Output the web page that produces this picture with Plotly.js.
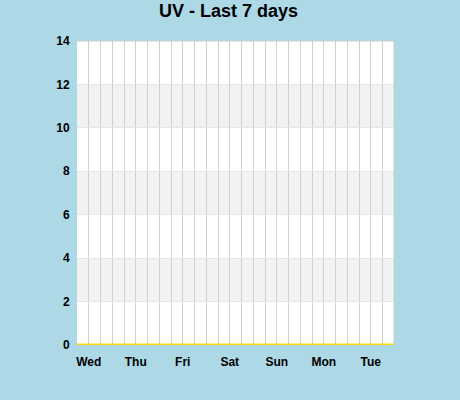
<!DOCTYPE html>
<html>
<head>
<meta charset="utf-8">
<script src="https://cdn.plot.ly/plotly-3.0.1.min.js"></script>
<style>
  html, body { margin: 0; padding: 0; background: #add8e6; }
  #chart { width: 460px; height: 400px; }
</style>
</head>
<body>
<div id="chart"></div>
<script>
// UV readings over the last 7 days (all zero in the reference)
const times = [
  '2024-01-02 18:00', '2024-01-03 06:00', '2024-01-03 18:00',
  '2024-01-04 06:00', '2024-01-04 18:00', '2024-01-05 06:00',
  '2024-01-05 18:00', '2024-01-06 06:00', '2024-01-06 18:00',
  '2024-01-07 06:00', '2024-01-07 18:00', '2024-01-08 06:00',
  '2024-01-08 18:00', '2024-01-09 06:00', '2024-01-09 11:50'
];
const uv = [0, 0, 0, 0, 0, 0, 0, 0, 0, 0, 0, 0, 0, 0, 0];
const yTicks = [0, 2, 4, 6, 8, 10, 12, 14];
const bands = [[2, 4], [6, 8], [10, 12]];

const shapes = bands.map(b => ({
  type: 'rect', xref: 'paper', yref: 'y',
  x0: 0, x1: 1, y0: b[0], y1: b[1],
  fillcolor: '#f2f2f2', line: { width: 0 }, layer: 'below'
}));
// top and right frame
shapes.push({
  type: 'path', xref: 'paper', yref: 'paper',
  path: 'M0,1 L1,1 L1,0',
  line: { color: '#cccccc', width: 1 }, layer: 'above'
});

const layout = {
  width: 460,
  height: 400,
  paper_bgcolor: '#add8e6',
  plot_bgcolor: '#ffffff',
  font: { family: 'Liberation Sans, Arial, sans-serif', color: '#000000', size: 12 },
  title: {
    text: '<b>UV - Last 7 days</b>',
    font: { size: 18, color: '#000000' },
    x: 0.497, xanchor: 'center', y: 0.973, yanchor: 'middle'
  },
  margin: { l: 77, r: 66, t: 41, b: 55 },
  showlegend: false,
  xaxis: {
    type: 'date',
    range: ['2024-01-02 18:00', '2024-01-09 11:50'],
    tick0: '2024-01-03',
    dtick: 86400000,
    tickformat: '%a',
    tickfont: { size: 12, color: '#000000', weight: 'bold' },
    showgrid: true,
    gridcolor: '#d0d0d0',
    gridwidth: 1,
    minor: { dtick: 21600000, showgrid: true, gridcolor: '#d0d0d0', gridwidth: 1 },
    ticks: 'outside',
    ticklen: 6,
    tickcolor: 'rgba(0,0,0,0)',
    showline: false,
    zeroline: false,
    fixedrange: true
  },
  yaxis: {
    range: [0, 14],
    tickvals: yTicks,
    ticktext: yTicks.map(String),
    tickfont: { size: 12, color: '#000000', weight: 'bold' },
    showgrid: true,
    gridcolor: '#e6e6e6',
    ticks: 'outside',
    ticklen: 4,
    tickcolor: 'rgba(0,0,0,0)',
    showline: false,
    zeroline: false,
    fixedrange: true
  },
  shapes: shapes
};

const trace = {
  x: times,
  y: uv,
  type: 'scatter',
  mode: 'lines',
  name: 'UV',
  line: { color: '#ffd700', width: 3 },
  hoverinfo: 'skip'
};

Plotly.newPlot('chart', [trace], layout, { displayModeBar: false, staticPlot: true });
</script>
</body>
</html>
